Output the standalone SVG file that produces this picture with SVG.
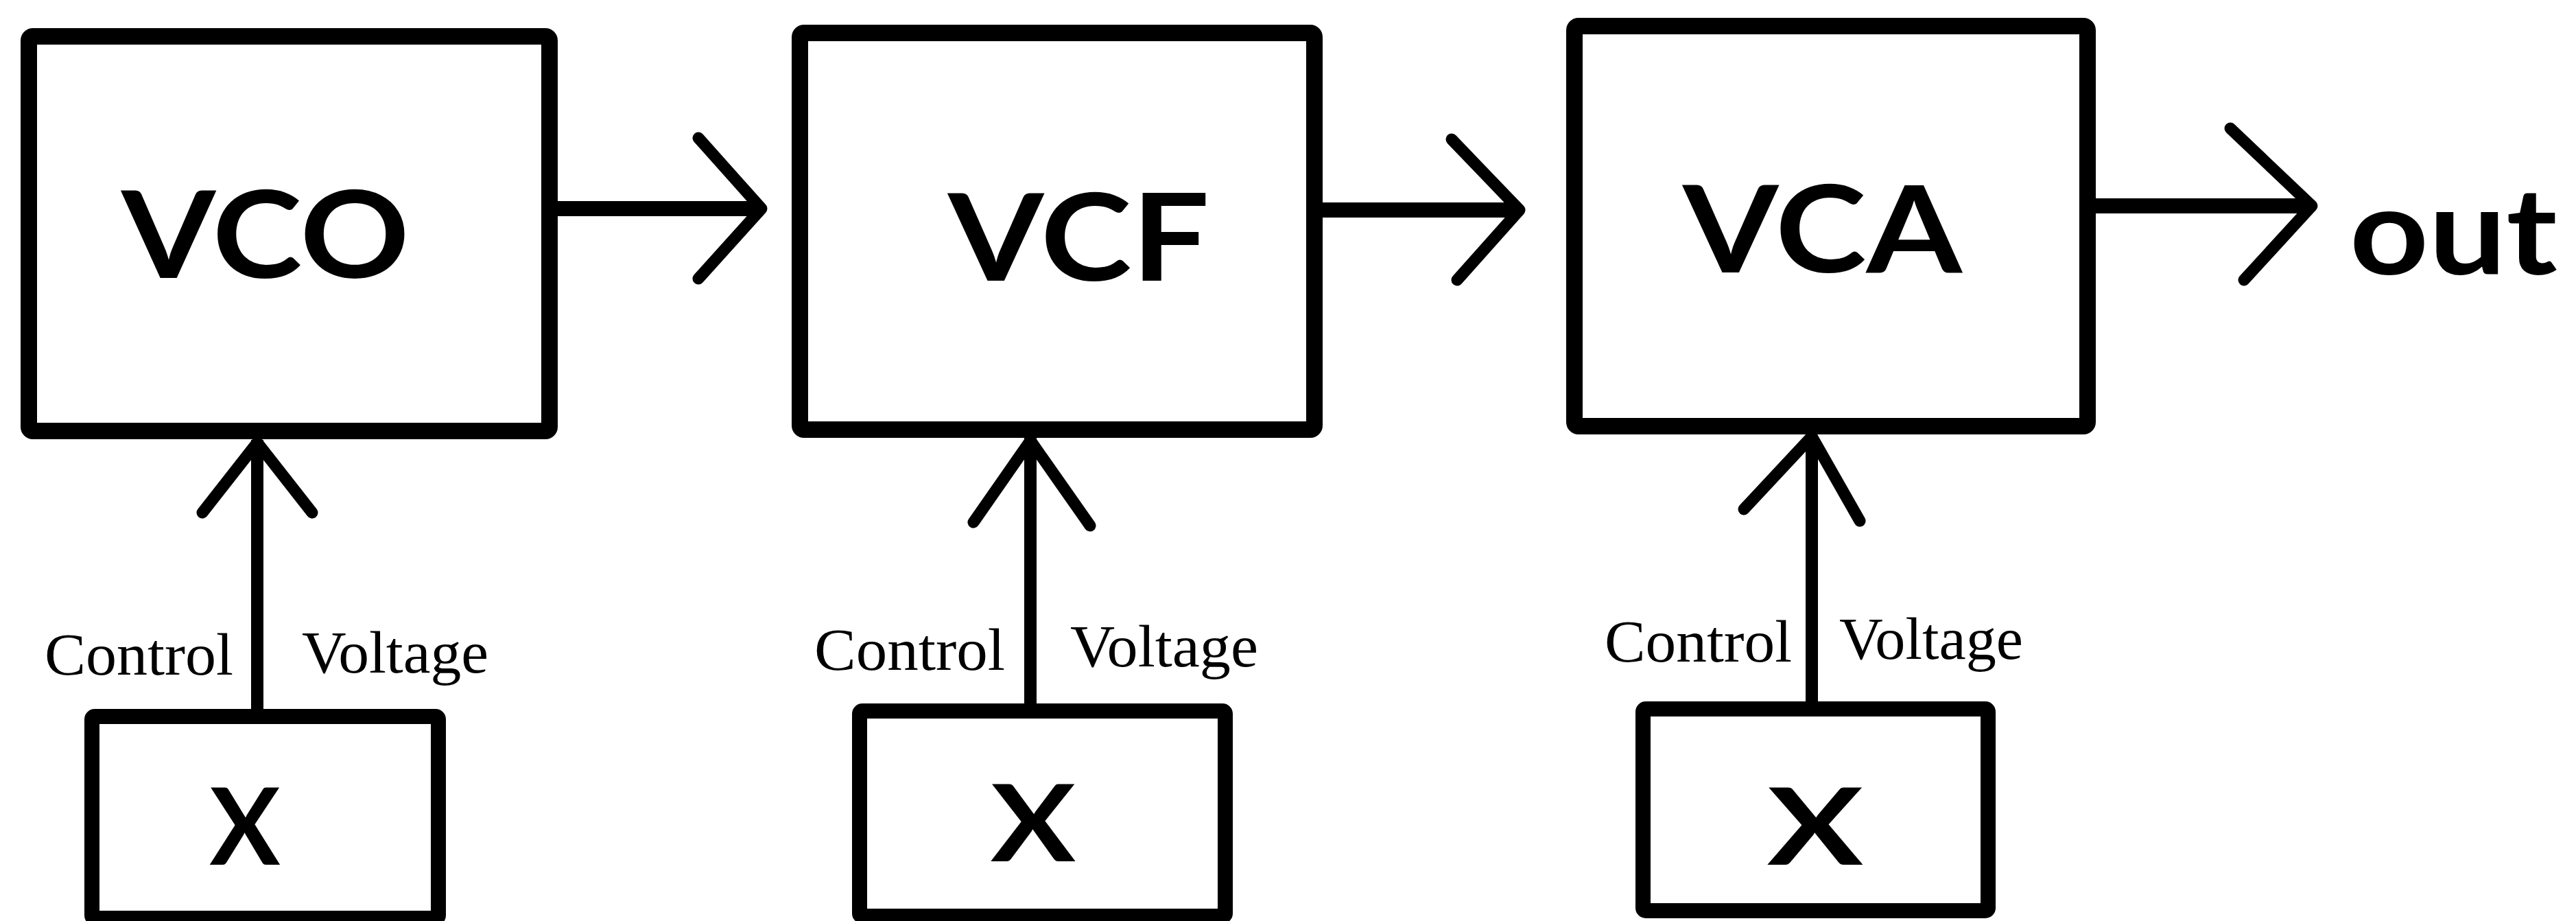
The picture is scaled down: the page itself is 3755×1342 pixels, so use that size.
<svg xmlns="http://www.w3.org/2000/svg" width="3755" height="1342" viewBox="0 0 3755 1342">
<style>
.bg{fill:#fff}
.box{fill:none;stroke:#000;stroke-width:24;stroke-linejoin:round}
.sbox{fill:none;stroke:#000;stroke-width:22;stroke-linejoin:round}
.wire{fill:none;stroke:#000;stroke-width:22;stroke-linecap:butt}
.vwire{fill:none;stroke:#000;stroke-width:18;stroke-linecap:butt}
.head{fill:none;stroke:#000;stroke-width:17;stroke-linecap:round;stroke-linejoin:round}
.big{font-family:Lato,"Liberation Sans",Arial,sans-serif;font-weight:bold;font-size:176px;fill:#000}
.mark{font-family:Lato,"Liberation Sans",Arial,sans-serif;font-weight:bold;font-size:155px;fill:#000;text-anchor:middle}
.lbl{font-family:"Liberation Serif","Times New Roman",serif;font-size:86px;fill:#000}
</style>
<rect class="bg" x="0" y="0" width="3755" height="1342"/>

<g id="vco">
<rect class="box" x="42" y="53" width="759" height="575" rx="6"/>
<text class="big" x="177" y="405" textLength="420" lengthAdjust="spacingAndGlyphs">VCO</text>
</g>
<g id="vcf">
<rect class="box" x="1166" y="48" width="750" height="578" rx="6"/>
<text class="big" x="1382" y="409" textLength="381" lengthAdjust="spacingAndGlyphs">VCF</text>
</g>
<g id="vca">
<rect class="box" x="2295" y="38" width="748" height="583" rx="6"/>
<text class="big" x="2453" y="397" textLength="407" lengthAdjust="spacingAndGlyphs">VCA</text>
</g>
<g id="cv1">
<rect class="sbox" x="134" y="1044" width="505" height="294" rx="4"/>
<text class="mark" x="357" y="1260" textLength="103" lengthAdjust="spacingAndGlyphs">X</text>
</g>
<g id="cv2">
<rect class="sbox" x="1253" y="1036" width="533" height="299" rx="4"/>
<text class="mark" x="1506" y="1255" textLength="124" lengthAdjust="spacingAndGlyphs">X</text>
</g>
<g id="cv3">
<rect class="sbox" x="2395" y="1033" width="503" height="294" rx="4"/>
<text class="mark" x="2646" y="1260" textLength="140" lengthAdjust="spacingAndGlyphs">X</text>
</g>
<g id="out">
<text class="big" x="3425" y="400" font-size="193" textLength="303" lengthAdjust="spacingAndGlyphs">out</text>
</g>

<g id="connectors">
<line class="wire" x1="813" y1="304" x2="1104" y2="304"/>
<polyline class="head" points="1018,201 1110,304 1018,406"/>
<line class="wire" x1="1928" y1="306" x2="2209" y2="306"/>
<polyline class="head" points="2116,203 2215,306 2124,408"/>
<line class="wire" x1="3055" y1="300" x2="3364" y2="300"/>
<polyline class="head" points="3251,187 3370,300 3271,408"/>

<line class="vwire" x1="375" y1="1034" x2="375" y2="641"/>
<polyline class="head" points="295,747 375,645 455,747"/>
<line class="vwire" x1="1502" y1="1026" x2="1502" y2="638"/>
<polyline class="head" points="1419,761 1502,642 1589,766"/>
<line class="vwire" x1="2641" y1="1022" x2="2641" y2="634"/>
<polyline class="head" points="2542,742 2641,636 2711,759"/>

<text class="lbl" x="65" y="983" textLength="275" lengthAdjust="spacingAndGlyphs">Control</text>
<text class="lbl" x="440" y="980" textLength="272" lengthAdjust="spacingAndGlyphs">Voltage</text>
<text class="lbl" x="1187" y="976" textLength="278" lengthAdjust="spacingAndGlyphs">Control</text>
<text class="lbl" x="1560" y="971" textLength="274" lengthAdjust="spacingAndGlyphs">Voltage</text>
<text class="lbl" x="2339" y="964" textLength="273" lengthAdjust="spacingAndGlyphs">Control</text>
<text class="lbl" x="2681" y="960" textLength="268" lengthAdjust="spacingAndGlyphs">Voltage</text>
</g>
</svg>
